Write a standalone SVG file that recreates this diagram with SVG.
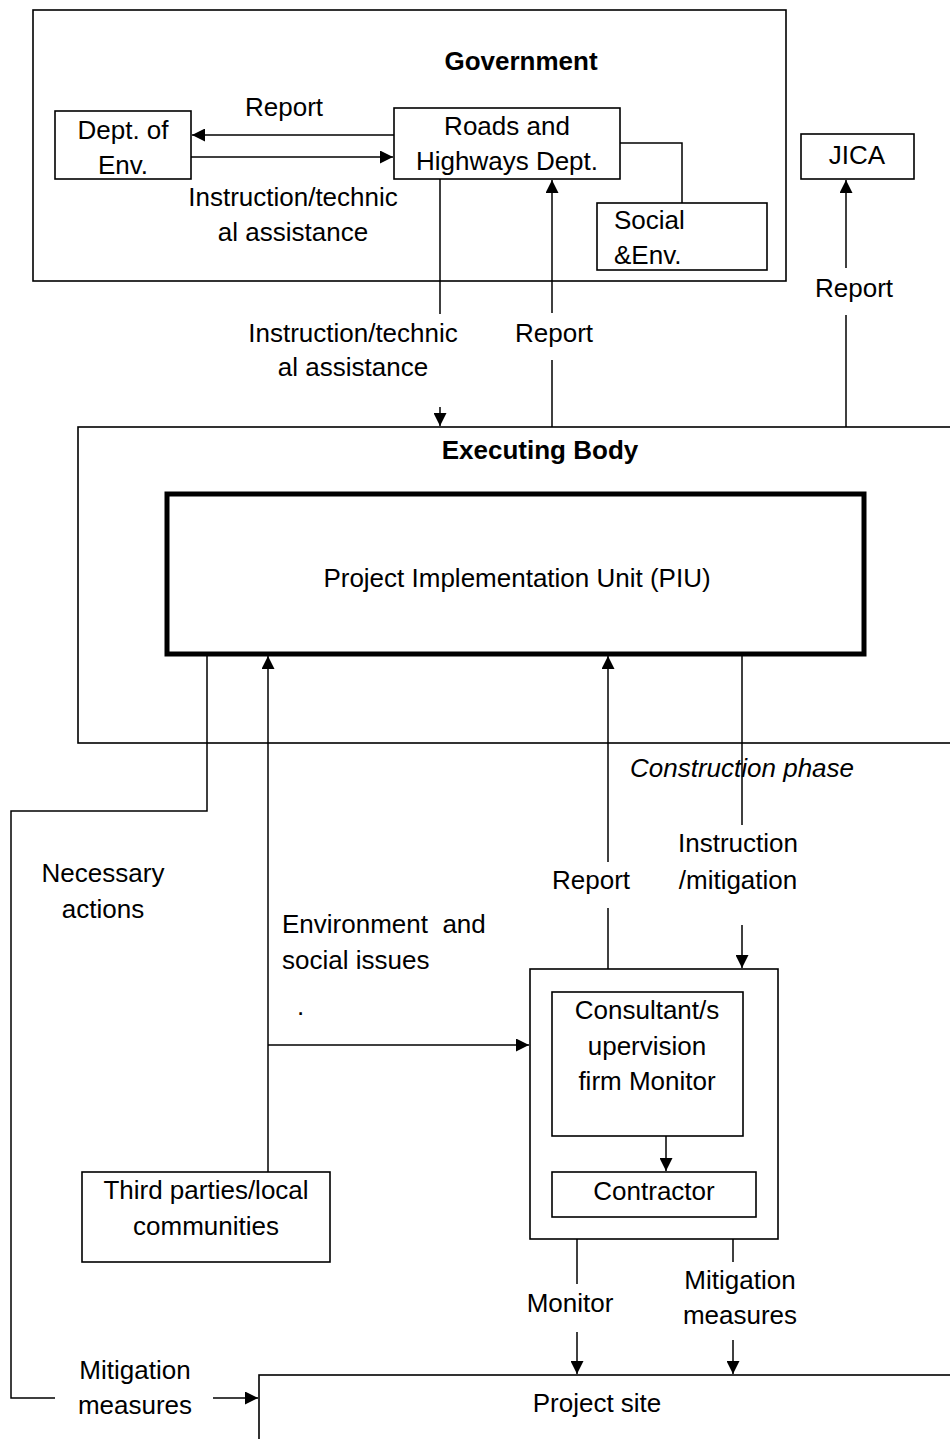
<svg xmlns="http://www.w3.org/2000/svg" width="950" height="1439" viewBox="0 0 950 1439">
<defs>
<marker id="ah" markerUnits="userSpaceOnUse" markerWidth="14" markerHeight="13" refX="13" refY="6.5" orient="auto">
<path d="M0,0 L13,6.5 L0,13 z" fill="#000"/>
</marker>
<style>
text{font-family:"Liberation Sans",Arial,sans-serif;font-size:26px;fill:#000}
.c{text-anchor:middle}
.b{font-weight:bold}
.i{font-style:italic}
.box{fill:#fff;stroke:#000;stroke-width:1.6}
.ln{fill:none;stroke:#000;stroke-width:1.5}
.ar{fill:none;stroke:#000;stroke-width:1.5;marker-end:url(#ah)}
</style>
</defs>
<rect width="950" height="1439" fill="#fff"/>

<g id="government">
<rect class="box" x="33" y="10" width="753" height="271" stroke-width="2"/>
<text class="c b" x="521" y="70">Government</text>
</g>
<g id="dept-env">
<rect class="box" x="55" y="111" width="136" height="68"/>
<text class="c" x="123" y="139">Dept. of</text>
<text class="c" x="123" y="174">Env.</text>
</g>
<g id="rhd">
<rect class="box" x="394" y="108" width="226" height="71"/>
<text class="c" x="507" y="135">Roads and</text>
<text class="c" x="507" y="170">Highways Dept.</text>
</g>
<g id="social-env">
<rect class="box" x="597" y="203" width="170" height="67"/>
<text x="614" y="229">Social</text>
<text x="614" y="264">&amp;Env.</text>
</g>
<g id="jica">
<rect class="box" x="801" y="134" width="113" height="45"/>
<text class="c" x="857" y="164">JICA</text>
</g>
<g id="executing-body">
<rect class="box" x="78" y="427" width="900" height="316"/>
<text class="c b" x="540" y="459">Executing Body</text>
</g>
<g id="piu">
<rect x="167" y="494" width="697" height="160" fill="#fff" stroke="#000" stroke-width="5"/>
<text class="c" x="517" y="587">Project Implementation Unit (PIU)</text>
</g>
<g id="consultant-group">
<rect class="box" x="530" y="969" width="248" height="270" stroke-width="2"/>
</g>
<g id="consultant">
<rect class="box" x="552" y="992" width="191" height="144"/>
<text class="c" x="647" y="1019">Consultant/s</text>
<text class="c" x="647" y="1055">upervision</text>
<text class="c" x="647" y="1090">firm Monitor</text>
</g>
<g id="contractor">
<rect class="box" x="552" y="1172" width="204" height="45"/>
<text class="c" x="654" y="1200">Contractor</text>
</g>
<g id="third-parties">
<rect class="box" x="82" y="1172" width="248" height="90"/>
<text class="c" x="206" y="1199">Third parties/local</text>
<text class="c" x="206" y="1235">communities</text>
</g>
<g id="project-site">
<rect class="box" x="259" y="1375" width="720" height="100"/>
<text class="c" x="597" y="1412">Project site</text>
</g>

<g id="connectors">
<line class="ar" x1="394" y1="135" x2="192" y2="135"/>
<line class="ar" x1="191" y1="157" x2="393" y2="157"/>
<polyline class="ln" points="620,143 682,143 682,203"/>
<line class="ln" x1="440" y1="179" x2="440" y2="314"/>
<line class="ar" x1="440" y1="407" x2="440" y2="426"/>
<line class="ln" x1="552" y1="427" x2="552" y2="360"/>
<line class="ar" x1="552" y1="313" x2="552" y2="180"/>
<line class="ln" x1="846" y1="427" x2="846" y2="315"/>
<line class="ar" x1="846" y1="268" x2="846" y2="180"/>
<polyline class="ln" points="207,654 207,811 11,811 11,1398 55,1398"/>
<line class="ar" x1="213" y1="1398" x2="258" y2="1398"/>
<line class="ar" x1="268" y1="1172" x2="268" y2="656"/>
<line class="ar" x1="268" y1="1045" x2="529" y2="1045"/>
<line class="ln" x1="608" y1="969" x2="608" y2="908"/>
<line class="ar" x1="608" y1="862" x2="608" y2="656"/>
<line class="ln" x1="742" y1="654" x2="742" y2="825"/>
<line class="ar" x1="742" y1="925" x2="742" y2="968"/>
<line class="ar" x1="666" y1="1136" x2="666" y2="1171"/>
<line class="ln" x1="577" y1="1239" x2="577" y2="1284"/>
<line class="ar" x1="577" y1="1332" x2="577" y2="1374"/>
<line class="ln" x1="733" y1="1239" x2="733" y2="1262"/>
<line class="ar" x1="733" y1="1340" x2="733" y2="1374"/>
</g>

<g id="labels">
<text class="c" x="284" y="116">Report</text>
<text class="c" x="293" y="206">Instruction/technic</text>
<text class="c" x="293" y="241">al assistance</text>
<text class="c" x="854" y="297">Report</text>
<text class="c" x="353" y="342">Instruction/technic</text>
<text class="c" x="353" y="376">al assistance</text>
<text class="c" x="554" y="342">Report</text>
<text class="c i" x="742" y="777">Construction phase</text>
<text class="c" x="103" y="882">Necessary</text>
<text class="c" x="103" y="918">actions</text>
<text class="c" x="591" y="889">Report</text>
<text class="c" x="738" y="852">Instruction</text>
<text class="c" x="738" y="889">/mitigation</text>
<text x="282" y="933" xml:space="preserve">Environment  and</text>
<text x="282" y="969">social issues</text>
<text x="297" y="1015">.</text>
<text class="c" x="570" y="1312">Monitor</text>
<text class="c" x="740" y="1289">Mitigation</text>
<text class="c" x="740" y="1324">measures</text>
<text class="c" x="135" y="1379">Mitigation</text>
<text class="c" x="135" y="1414">measures</text>
</g>
</svg>
